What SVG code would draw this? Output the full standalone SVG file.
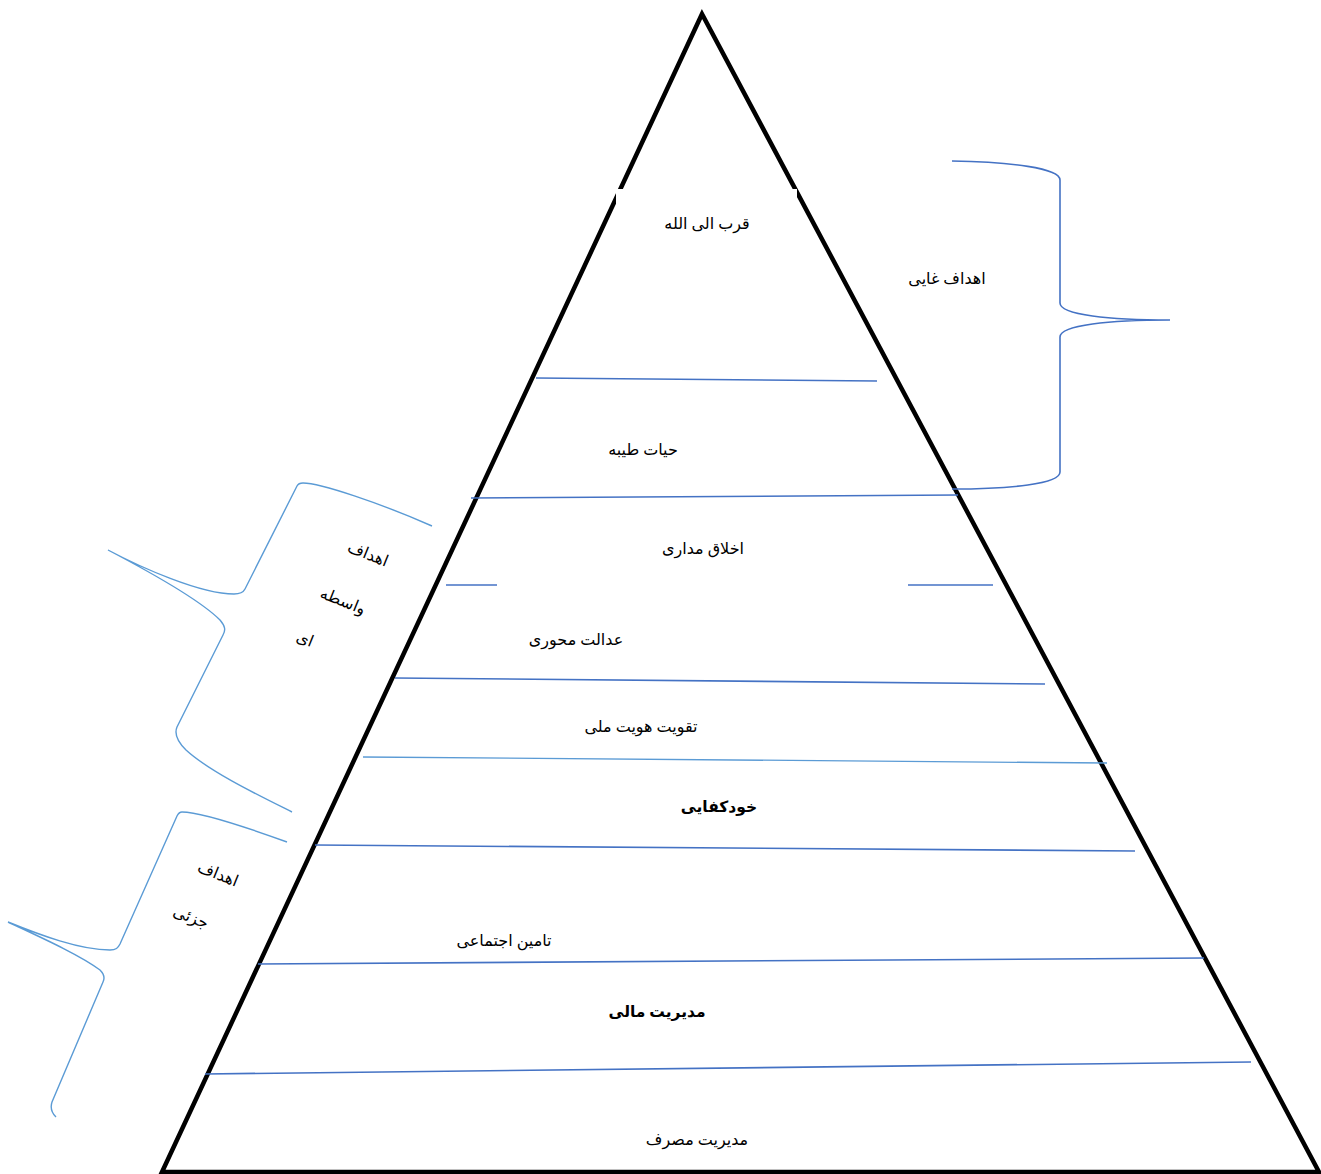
<svg xmlns="http://www.w3.org/2000/svg" width="1321" height="1174" viewBox="0 0 1321 1174">
<style>
.tri{fill:none;stroke:#000;stroke-width:4.5;stroke-linejoin:miter}
.ln{stroke:#4472C4;stroke-width:1.6;fill:none}
.ll{stroke:#5B9BD5;stroke-width:1.3;fill:none}
.br{stroke:#4472C4;stroke-width:1.6;fill:none}
.bl{stroke:#5B9BD5;stroke-width:1.4;fill:none}
text{font-family:"Liberation Serif","DejaVu Serif","DejaVu Sans",serif;font-size:16px;fill:#000;text-anchor:middle;direction:rtl}
.b{font-weight:bold;font-size:15.5px}
</style>
<rect width="1321" height="1174" fill="#fff"/>
<g id="pyramid">
<polygon class="tri" points="702,14 162,1172 1319,1172"/>
<rect x="616" y="189" width="181" height="24" fill="#fff"/>
</g>
<g id="connectors">
<line class="ln" x1="536" y1="378" x2="877" y2="381"/>
<line class="ln" x1="471" y1="498" x2="958" y2="495"/>
<line class="ln" x1="446" y1="585" x2="497" y2="585"/>
<line class="ln" x1="908" y1="585" x2="993" y2="585"/>
<line class="ln" x1="395" y1="678" x2="1045" y2="684"/>
<line class="ll" x1="363" y1="757" x2="1107" y2="763"/>
<line class="ln" x1="315" y1="845" x2="1135" y2="851"/>
<line class="ln" x1="258" y1="964" x2="1204" y2="958"/>
<line class="ln" x1="205" y1="1074" x2="1251" y2="1062"/>
</g>
<g id="brace-right">
<path class="br" d="M952,161 C1010,162 1060,168 1060,180 L1060,303 C1060,315 1110,320 1170,320 C1110,320 1060,325 1060,337 L1060,472 C1060,484 1010,489 952,489"/>
</g>
<g id="brace-mid">
<path class="bl" d="M432,526 C380,503 320,483 303,483 C300,483 298,484 297,486 L245,589 C243,593 240,594 234,594 C200,594 140,567 108,550 C150,572 200,600 220,620 C225,626 226,630 223,635 L177,727 C174,734 178,742 186,750 C210,772 260,796 292,812"/>
</g>
<g id="brace-low">
<path class="bl" d="M287,842 C240,825 200,812 182,812 C179,812 178,814 177,816 L120,944 C118,948 116,950 110,950 C80,950 40,935 8,922 C40,937 80,955 100,970 C104,974 105,978 103,982 L52,1102 C50,1108 52,1113 56,1117"/>
</g>
<g id="labels">
<text x="707" y="229">قرب الی الله</text>
<text x="947" y="284">اهداف غایی</text>
<text x="643" y="455">حیات طیبه</text>
<text x="703" y="554">اخلاق مداری</text>
<text x="576" y="645">عدالت محوری</text>
<text x="641" y="732">تقویت هویت ملی</text>
<text class="b" x="719" y="812">خودکفایی</text>
<text x="504" y="946">تامین اجتماعی</text>
<text class="b" x="657" y="1017">مدیریت مالی</text>
<text x="697" y="1145">مدیریت مصرف</text>
<text transform="translate(366,559) rotate(22)" x="0" y="0">اهداف</text>
<text transform="translate(341,606) rotate(22)" x="0" y="0">واسطه</text>
<text transform="translate(303,644) rotate(22)" x="0" y="0">ای</text>
<text transform="translate(216,879) rotate(22)" x="0" y="0">اهداف</text>
<text transform="translate(189,922) rotate(22)" x="0" y="0">جزئی</text>
</g>
</svg>
